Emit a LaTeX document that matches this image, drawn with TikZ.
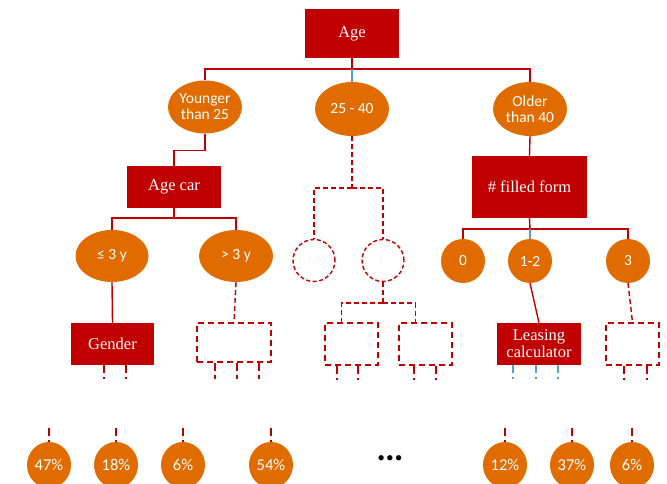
\documentclass[tikz,border=0pt]{standalone}
\usepackage{fontspec}
\setmainfont{Liberation Serif}
\newfontfamily\calfont{Carlito}
\usetikzlibrary{shapes.geometric}
\definecolor{dred}{HTML}{C00000}
\definecolor{orng}{HTML}{E06C00}
\definecolor{lblue}{HTML}{5B9BD5}
\begin{document}
\begin{tikzpicture}[x=1pt,y=-1pt,
  rbox/.style={rectangle, fill=dred, text=white, inner sep=0pt, align=center,
    font=\fontsize{16.5}{18}\selectfont},
  oell/.style={ellipse, fill=orng, text=white, inner sep=0pt, align=center,
    font=\calfont\fontsize{15.5}{17}\selectfont},
  pell/.style={oell, minimum width=44pt, minimum height=46pt,
    font=\calfont\fontsize{16.5}{18}\selectfont},
  kcirc/.style={oell, minimum width=44pt, minimum height=44pt},
  dbox/.style={rectangle, draw=dred, line width=1.4pt, dash pattern=on 6pt off 4pt, inner sep=0pt},
  dcirc/.style={circle, draw=dred, line width=1.4pt, dash pattern=on 4pt off 2.5pt,
    minimum size=42pt, inner sep=0pt, text=black!3, font=\calfont\fontsize{14}{16}\selectfont},
  link/.style={draw=dred, line width=1.4pt},
  dlink/.style={draw=dred, line width=1.4pt, dash pattern=on 5pt off 3pt},
  blink/.style={draw=lblue, line width=1.4pt},
  stub/.style={draw=dred, line width=1.3pt, dash pattern=on 8pt off 4pt},
  bstub/.style={draw=lblue, line width=1.3pt, dash pattern=on 8pt off 4pt}]
\useasboundingbox (0,0) rectangle (667,484);

% level 0
\node[rbox, minimum width=94pt, minimum height=49pt] (age) at (352,33.5) {Age};
% level 1
\node[oell, minimum width=74pt, minimum height=53pt] (young) at (205,107) {Younger\\[-1pt]than 25};
\node[oell, minimum width=74pt, minimum height=54pt] (mid) at (352,109) {25 - 40};
\node[oell, minimum width=74pt, minimum height=54pt] (old) at (530,109) {Older\\[-1pt]than 40};
% level 2
\node[rbox, minimum width=94pt, minimum height=42pt] (agecar) at (174,187) {Age car};
\node[dcirc] (cm) at (314,260.5) {M};
\node[dcirc] (cf) at (383,260.5) {F};
\node[rbox, minimum width=115pt, minimum height=62pt] (filled) at (529.5,187) {\# filled form};
% level 3
\node[oell, minimum width=73pt, minimum height=52pt] (le3) at (112,256) {≤ 3 y};
\node[oell, minimum width=74pt, minimum height=52pt] (gt3) at (236,256) {> 3 y};
\node[kcirc] (k0) at (463,261) {0};
\node[kcirc] (k12) at (530,261) {1-2};
\node[kcirc] (k3) at (628,261) {3};
% level 4
\node[rbox, minimum width=83pt, minimum height=42pt] (gender) at (112.5,344) {Gender};
\node[dbox, minimum width=74pt, minimum height=39pt] (db1) at (234,342.5) {};
\node[dbox, minimum width=53pt, minimum height=42pt] (db2) at (351.5,344) {};
\node[dbox, minimum width=53pt, minimum height=42pt] (db3) at (425.5,344) {};
\node[rbox, minimum width=84pt, minimum height=42pt] (leasing) at (539,344) {Leasing\\[-1pt]calculator};
\node[dbox, minimum width=53pt, minimum height=42pt] (db4) at (632.5,344) {};
% leaves
\node[pell] (p1) at (49,465) {47\%};
\node[pell] (p2) at (116,465) {18\%};
\node[pell] (p3) at (183,465) {6\%};
\node[pell] (p4) at (271,465) {54\%};
\node[font=\fontsize{22}{24}\selectfont, inner sep=0pt] (dots) at (390,461) {•\hspace{1pt}•\hspace{1pt}•};
\node[pell] (p5) at (505,465) {12\%};
\node[pell] (p6) at (572,465) {37\%};
\node[pell] (p7) at (632,465) {6\%};

% connectors from Age
\coordinate (ajoin) at (352,69);
\draw[link] (age.south) -- (ajoin);
\draw[link] (ajoin) -| (young.north);
\draw[link] (ajoin) -| (old.north);
\draw[blink] (ajoin) -- (mid.north);
% younger branch
\draw[link] (young.south) -- ++(0,17) -| (agecar.north);
\coordinate (cjoin) at (174,218);
\draw[link] (agecar.south) -- (cjoin);
\draw[link] (cjoin) -| (le3.north);
\draw[link] (cjoin) -| (gt3.north);
\draw[link] (le3.south) -- (gender.north);
\draw[dlink] (gt3.south) -- (db1.north);
% middle branch
\coordinate (mjoin) at (352,188);
\draw[dlink] (mid.south) -- (mjoin);
\draw[dlink] (mjoin) -| (cm.north);
\draw[dlink] (mjoin) -| (cf.north);
\coordinate (fjoin) at (383,303);
\draw[dlink] (cf.south) -- (fjoin);
\draw[dlink] (fjoin) -| ([xshift=-10pt]db2.north);
\draw[dlink] (fjoin) -| ([xshift=-10pt]db3.north);
% older branch
\draw[link] (old.south) -- (filled.north);
\coordinate (ojoin) at (530,229);
\draw[link] (filled.south) -- (ojoin);
\draw[link] (ojoin) -| (k0.north);
\draw[link] (ojoin) -| (k3.north);
\draw[blink] (ojoin) -- (k12.north);
\draw[link] (k12.south) -- (leasing.north);
\draw[dlink] (k3.south) -- (db4.north);

% stubs below level-4 boxes
\foreach \dx in {-8.5,13.5} \draw[stub] ([xshift=\dx pt]gender.south) -- ++(0,14);
\foreach \dx in {-19,3,25} \draw[stub] ([xshift=\dx pt]db1.south) -- ++(0,16);
\foreach \dx in {-14.5,6.5} \draw[stub] ([xshift=\dx pt]db2.south) -- ++(0,14);
\foreach \dx in {-11.5,10.5} \draw[stub] ([xshift=\dx pt]db3.south) -- ++(0,14);
\foreach \dx in {-26,-3,19} \draw[bstub] ([xshift=\dx pt]leasing.south) -- ++(0,14);
\foreach \dx in {-8.5,14.5} \draw[stub] ([xshift=\dx pt]db4.south) -- ++(0,14);
% stubs above leaves
\foreach \p in {p1,p2,p3,p4,p5,p6,p7} \draw[stub] ([yshift=14pt]\p.north) -- (\p.north);
\end{tikzpicture}
\end{document}
